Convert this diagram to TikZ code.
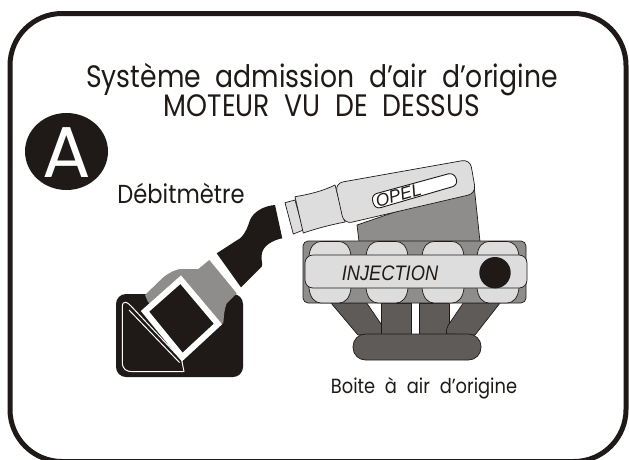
\documentclass[tikz,border=0pt]{standalone}
\usepackage{fontspec}
\usepackage{graphicx}
\setmainfont{Poppins}
\newfontfamily\arialfont{Liberation Sans}
\definecolor{ink}{HTML}{1F1A17}
\definecolor{midgray}{HTML}{8F8D8C}
\definecolor{lightgray}{HTML}{DEDDDD}
\definecolor{darkgray}{HTML}{5F5B58}
\tikzset{
  label text/.style={text=ink,inner sep=0pt,anchor=base},
  part/.style={draw=ink,line width=0.7pt,line join=round},
  light part/.style={part,fill=lightgray},
  runner part/.style={part,fill=darkgray},
  mid part/.style={part,fill=midgray},
  white line/.style={draw=white,line join=round}
}
\newcommand{\txt}[2]{\fontsize{#1}{#1}\selectfont\spaceskip=.55em\relax #2}
\newcommand{\narrow}[2]{\scalebox{#1}[1]{#2}}
\newcommand{\cyl}[1]{%
  \path[light part] (#1-21,256) .. controls (#1-20,246) and (#1-15,241.5) .. (#1-9,241.5) -- (#1+9,241.5)
     .. controls (#1+15,241.5) and (#1+20,246) .. (#1+21,256) -- (#1+21,288)
     .. controls (#1+20,298) and (#1+15,303) .. (#1+9,303) -- (#1-9,303)
     .. controls (#1-15,303) and (#1-20,298) .. (#1-21,288) -- cycle;}
\begin{document}
\begin{tikzpicture}[x=1pt,y=-1pt]
\useasboundingbox (0,0) rectangle (629,459);
\clip (0,0) rectangle (629,459);
% frame
\draw[ink,line width=5pt,rounded corners=52pt] (10,13.5) rectangle (626,461.5);
% titles
\node[label text] (title1) at (322,87) {\narrow{.86}{\txt{31}{Système admission d'air d'origine}}};
\node[label text] (title2) at (322,116.5) {\narrow{.86}{\txt{31}{MOTEUR VU DE DESSUS}}};
% badge
\fill[ink] (66.5,151.5) ellipse [x radius=41.5,y radius=38.5];
\node[text=white,inner sep=0pt,anchor=base] (badge) at (66.5,177) {\txt{72}{A}};
\node[label text] (debit) at (181,203) {\narrow{.87}{\txt{26}{Débitmètre}}};
% air box
\fill[ink,rounded corners=10pt] (116,294) rectangle (243,377);
\fill[midgray] (145,295) -- (163.3,277.3) .. controls (170,272) and (175,270) .. (180,269) -- (198.3,269) -- (209.3,260) -- (236.7,293.3) -- (226.7,303.3) .. controls (224,310) and (224,316) .. (223.3,323.3) -- (180,330) -- (148,302) -- cycle;
\path[fill=ink,draw=white,line width=6pt,line join=miter] (180.7,279.7) -- (218,324) -- (182.3,357) -- (145,311.3) -- cycle;
\draw[white,line width=1pt,line join=round] (122.3,306.7) .. controls (122.3,303) and (124,302) .. (126,302.3) .. controls (127,302.3) and (129,304) .. (131,306) -- (181.7,360) -- (184,371.7) -- (133,371.7) .. controls (126,371.7) and (122.3,369) .. (122.3,362) -- cycle;
\draw[white,line width=1pt] (129,310) -- (179.5,362.5);
% hose
\fill[ink] (216.7,253.3) -- (240,238.3) .. controls (246,233) and (248,226) .. (250,220) .. controls (253,213) and (262,206) .. (275,205) -- (282.3,238.3) .. controls (273,240) and (262,246) .. (261.7,255) .. controls (261,262) and (263,262) .. (261.7,266.7) -- (241,287.3) -- cycle;
% manifold behind
\path[mid part] (357,225) -- (359,241.5) -- (480,241.5) -- (474,185) -- cycle;
% collar and neck
\path[light part] (285,202.7) -- (295,200) -- (303.3,230) -- (293.3,234) -- cycle;
\path[light part] (295,196.7) .. controls (312,194) and (325,190) .. (335,185) -- (345,222) .. controls (330,225) and (318,228) .. (303.3,233) -- cycle;
% throttle body
\path[light part,rounded corners=8pt] (335,183.3) -- (470,159.3) -- (476,193.3) -- (344,224) -- cycle;
\path[draw=ink,fill=white,line width=0.9pt,rounded corners=6pt] (371,195) -- (454,172.3) -- (458.3,185) -- (375,209.3) -- cycle;
\node[label text,anchor=center,rotate=15.5] (opel) at (398.5,195) {\arialfont\itshape\txt{17.5}{OPEL}};
% runners to collector
\path[runner part] (331,303) -- (366.7,303) -- (381.7,325) -- (381.7,335) -- (358,335) -- cycle;
\path[runner part] (381.7,303) -- (411.7,303) -- (411.7,334) -- (381.7,334) -- cycle;
\path[runner part] (419.3,303) -- (449.3,303) -- (449.3,334) -- (419.3,334) -- cycle;
\path[runner part] (463.3,303) -- (500,303) -- (475,335) -- (446.7,334) .. controls (446,330) and (447,327) .. (448.3,325) -- cycle;
\path[runner part,rounded corners=12.5pt] (353,334) rectangle (481,360);
% engine
\path[mid part,rounded corners=5pt] (303,241) rectangle (526,303);
\cyl{330}\cyl{387}\cyl{443}\cyl{498}
\path[light part,rounded corners=8pt] (305,255) rectangle (527,288);
\fill[ink] (495,272.7) circle [radius=15.7];
\node[label text,anchor=base] (inj) at (390,280) {\narrow{.87}{\arialfont\itshape\txt{21}{INJECTION}}};
\node[label text] (boite) at (424,393) {\narrow{.87}{\txt{20.5}{Boite à air d'origine}}};
\end{tikzpicture}
\end{document}
